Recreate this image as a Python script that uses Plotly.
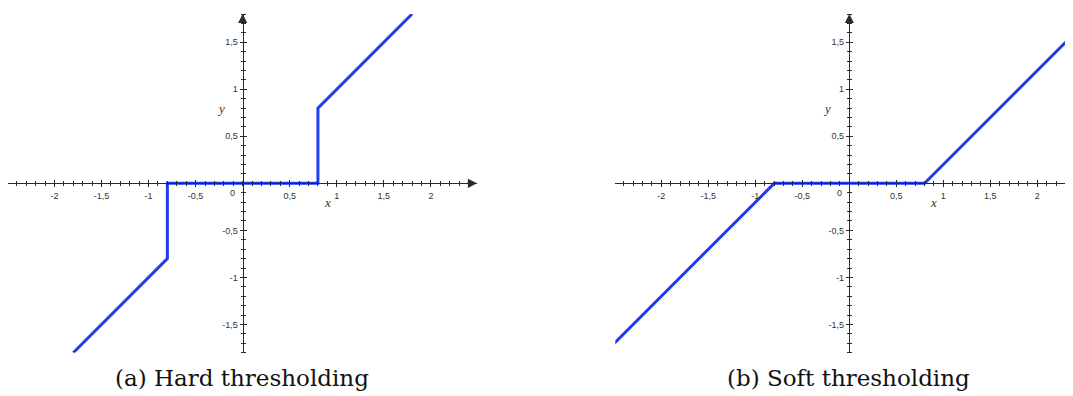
import plotly.graph_objects as go

# ---- data ----
hard_x = [-1.8, -0.8, -0.8, 0.8, 0.8, 1.8]
hard_y = [-1.8, -0.8, 0.0, 0.0, 0.8, 1.8]
soft_x = [-2.6, -0.8, 0.8, 2.6]
soft_y = [-1.8, 0.0, 0.0, 1.8]

x_tickvals = [-2, -1.5, -1, -0.5, 0.5, 1, 1.5, 2]
x_ticktext = ["-2", "-1,5", "-1", "-0,5", "0,5", "1", "1,5", "2"]
y_tickvals = [-1.5, -1, -0.5, 0.5, 1, 1.5]
y_ticktext = ["-1,5", "-1", "-0,5", "0,5", "1", "1,5"]
captions = ["(a) Hard thresholding", "(b) Soft thresholding"]

# ---- layout geometry ----
OFF = 8  # page body margin
W, H = 1073 - OFF, 396 - OFF


def px(x):
    return (x - OFF) / W


def py(y):
    return 1 - (y - OFF) / H


UNIT = 94.0
y_dom = [py(352.7), py(14)]
y_range = [-1.8, 1.8]
x0_pos = py(183)  # paper y of y=0
left_dom = [px(8.3), px(477)]
left_range = [-2.49, 2.49]
right_dom = [px(615.3), 1.0]
right_range = [-2.49, -2.49 + (1073 - 615.3) / UNIT]
left_y_pos = px(242.7)
right_y_pos = px(849)

LINE = "#1f3cf2"
AX = "#2a2a2a"
TICKFONT = dict(family="Liberation Sans, Arial", size=9, color="#333")

fig = go.Figure()
fig.add_trace(go.Scatter(x=hard_x, y=hard_y, mode="lines", xaxis="x", yaxis="y",
                         line=dict(color=LINE, width=3), hoverinfo="skip"))
fig.add_trace(go.Scatter(x=soft_x, y=soft_y, mode="lines", xaxis="x2", yaxis="y2",
                         line=dict(color=LINE, width=3), hoverinfo="skip"))
# invisible traces so overlay axes (upward / rightward tick halves) exist
for xa, ya in [("x3", "y"), ("x", "y3"), ("x4", "y2"), ("x2", "y4")]:
    fig.add_trace(go.Scatter(x=[None], y=[None], xaxis=xa, yaxis=ya,
                             mode="lines", showlegend=False, hoverinfo="skip"))


def xax(dom, rng, side="bottom", labels=True, line=True, overlay=None):
    d = dict(domain=dom, range=rng, anchor="free", position=x0_pos, side=side,
             automargin=False,
             showgrid=False, zeroline=False, showline=line, linecolor=AX, linewidth=1.3,
             tickmode="array", tickvals=x_tickvals, ticktext=x_ticktext,
             showticklabels=labels, ticks="outside", ticklen=3, tickwidth=1, tickcolor=AX,
             tickfont=TICKFONT, ticklabelstandoff=1,
             minor=dict(dtick=0.1, tick0=0, ticks="outside", ticklen=2, tickwidth=1, tickcolor=AX),
             fixedrange=True)
    if overlay:
        d["overlaying"] = overlay
    return d


def yax(pos, side="left", labels=True, line=True, overlay=None):
    d = dict(domain=y_dom, range=y_range, anchor="free", position=pos, side=side,
             automargin=False,
             showgrid=False, zeroline=False, showline=line, linecolor=AX, linewidth=1.3,
             tickmode="array", tickvals=y_tickvals, ticktext=y_ticktext,
             showticklabels=labels, ticks="outside", ticklen=3, tickwidth=1, tickcolor=AX,
             tickfont=TICKFONT, ticklabelstandoff=0,
             minor=dict(dtick=0.1, tick0=0, ticks="outside", ticklen=2, tickwidth=1, tickcolor=AX),
             fixedrange=True)
    if overlay:
        d["overlaying"] = overlay
    return d


fig.update_layout(
    width=W, height=H, margin=dict(l=0, r=0, t=0, b=0, pad=0, autoexpand=False),
    paper_bgcolor="white", plot_bgcolor="rgba(0,0,0,0)", showlegend=False,
    xaxis=xax(left_dom, left_range),
    yaxis=yax(left_y_pos),
    xaxis2=xax(right_dom, right_range),
    yaxis2=yax(right_y_pos),
    xaxis3=xax(left_dom, left_range, side="top", labels=False, line=False, overlay="x"),
    yaxis3=yax(left_y_pos, side="right", labels=False, line=False, overlay="y"),
    xaxis4=xax(right_dom, right_range, side="top", labels=False, line=False, overlay="x2"),
    yaxis4=yax(right_y_pos, side="right", labels=False, line=False, overlay="y2"),
)

ann = []
# arrowheads
ann.append(dict(x=left_range[1], y=0, ax=left_range[1] - 0.12, ay=0, xref="x", yref="y",
                axref="x", ayref="y", showarrow=True, arrowhead=2, arrowsize=1.4,
                arrowwidth=1.3, arrowcolor=AX, text=""))
for xr, yr in [("x", "y"), ("x2", "y2")]:
    ann.append(dict(x=0, y=y_range[1], ax=0, ay=y_range[1] - 0.12, xref=xr, yref=yr,
                    axref=xr, ayref=yr, showarrow=True, arrowhead=2, arrowsize=1.4,
                    arrowwidth=1.3, arrowcolor=AX, text=""))
    # origin label
    ann.append(dict(x=0, y=0, xref=xr, yref=yr, text="0", showarrow=False,
                    xshift=-10, yshift=-10, font=TICKFONT))
    # axis titles
    ann.append(dict(x=0.9, y=0, xref=xr, yref=yr, text="<i>x</i>", showarrow=False,
                    yshift=-19, font=dict(family="Liberation Serif, serif", size=13, color="#333")))
    ann.append(dict(x=0, y=0.8, xref=xr, yref=yr, text="<i>y</i>", showarrow=False,
                    xshift=-22, font=dict(family="Liberation Serif, serif", size=13, color="#333")))

for cx, txt in zip([px(242), px(848)], captions):
    ann.append(dict(x=cx, y=py(378), xref="paper", yref="paper", text=txt,
                    showarrow=False, xanchor="center", yanchor="middle",
                    font=dict(family="DejaVu Serif, serif", size=23, color="#111")))

fig.update_layout(annotations=ann)
fig.write_html("out.html")
